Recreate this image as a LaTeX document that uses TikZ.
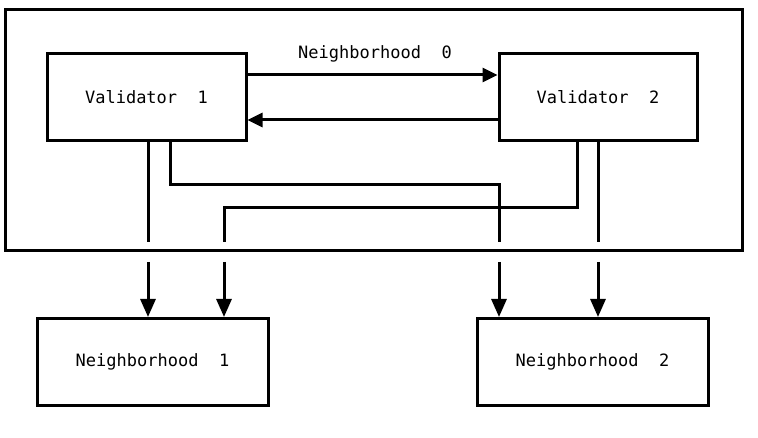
\documentclass[tikz,border=0pt]{standalone}
\usepackage{fontspec}
\setmonofont{DejaVu Sans Mono}
\usetikzlibrary{arrows.meta}
\begin{document}
\begin{tikzpicture}[x=1pt,y=-1pt,
  box/.style={draw,line width=3pt,minimum width=#1,minimum height=87pt,inner sep=0pt,font=\ttfamily\fontsize{17}{19}\selectfont},
  conn/.style={line width=3pt},
  arr/.style={line width=3pt,-{Triangle[length=18pt,width=15pt]}},
  harr/.style={line width=3pt,-{Triangle[length=15pt,width=14pt]}}]
\useasboundingbox (0,0) rectangle (758,438);
\draw[line width=3pt] (5,10) rectangle (742,251);
\node[box=199pt] (v1) at (146.5,97.5) {Validator\ \ 1};
\node[box=198pt] (v2) at (598,97.5) {Validator\ \ 2};
\node[box=231pt] (n1) at (152.5,362) {Neighborhood\ \ 1};
\node[box=231pt] (n2) at (592.5,362) {Neighborhood\ \ 2};
\node[font=\ttfamily\fontsize{17}{19}\selectfont] (lbl) at (375,54) {Neighborhood\ \ 0};
\draw[harr] (v1.east |- 0,75) -- (v2.west |- 0,75);
\draw[harr] (v2.west |- 0,120) -- (v1.east |- 0,120);
% endpoints
\coordinate (a1) at (148,242);
\coordinate (a2) at (499,242);
\coordinate (b1) at (224,242);
\coordinate (b2) at (598,242);
\coordinate (s1) at (148,262);
\coordinate (s2) at (224,262);
\coordinate (s3) at (499,262);
\coordinate (s4) at (598,262);
\draw[conn] (v1.south -| a1) -- (a1);
\draw[conn] (v1.south -| 170,0) |- (499,185) -- (a2);
\draw[conn] (v2.south -| 577,0) |- (224,208) -- (b1);
\draw[conn] (v2.south -| b2) -- (b2);
\draw[arr] (s1) -- (n1.north -| s1);
\draw[arr] (s2) -- (n1.north -| s2);
\draw[arr] (s3) -- (n2.north -| s3);
\draw[arr] (s4) -- (n2.north -| s4);
\end{tikzpicture}
\end{document}
